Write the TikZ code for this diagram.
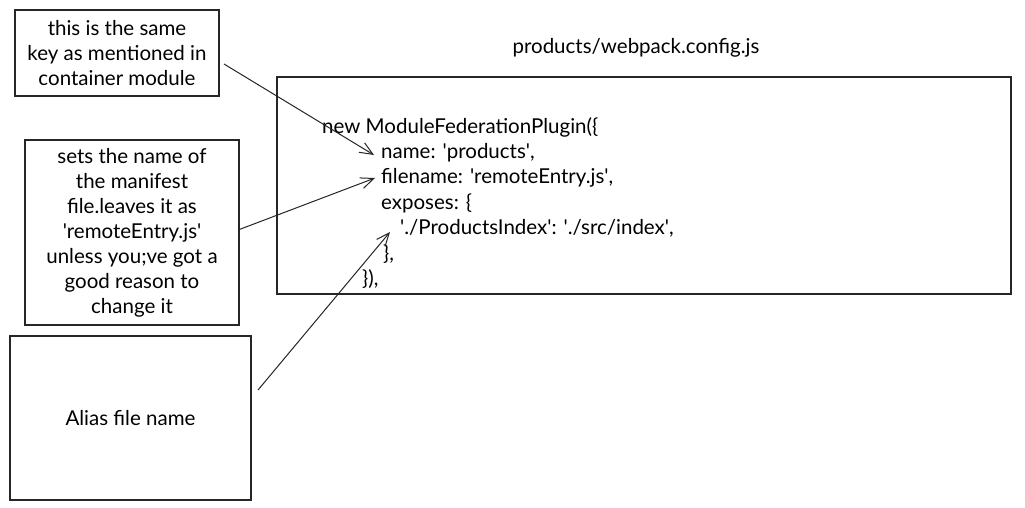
\documentclass[tikz,border=0pt]{standalone}
\usepackage{fontspec}
\setmainfont{Lato}
\usetikzlibrary{arrows.meta}
\newcommand{\sqt}{\textquotesingle}
\begin{document}
\begin{tikzpicture}[x=1pt,y=-1pt,
  sketch/.style={draw=black!85,line width=1.1pt},
  note/.style={sketch,align=center,inner sep=0pt,font=\fontsize{20.5}{25}\selectfont},
  lbl/.style={inner sep=0pt,font=\fontsize{20.5}{25}\selectfont},
  code/.style={lbl,anchor=west},
  conn/.style={draw=black!85,line width=1pt,-{Straight Barb[length=13pt,width=11pt,line width=1pt]}}]
\useasboundingbox[fill=white] (0,0) rectangle (1025,507);
% boxes
\node[note,minimum width=204pt,minimum height=86pt] (keybox) at (117,53)
  {this is the same\\key as mentioned in\\container module};
\node[note,minimum width=214pt,minimum height=185pt] (filebox) at (132,232.5)
  {sets the name of\\the manifest\\file.leaves it as\\\sqt remoteEntry.js\sqt\\unless you;ve got a\\good reason to\\change it};
\node[note,minimum width=241pt,minimum height=164pt] (aliasbox) at (130.5,418) {Alias file name};
\node[sketch,minimum width=734pt,minimum height=217pt,inner sep=0pt] (cfgbox) at (644,185.5) {};
\node[lbl] (title) at (636,48) {products/webpack.config.js};
% code
\node[code] (c1) at (322,127) {new ModuleFederationPlugin(\{};
\node[code] (c2) at (381,153) {name: \sqt products\sqt,};
\node[code] (c3) at (381,178) {filename: \sqt remoteEntry.js\sqt,};
\node[code] (c4) at (381,203) {exposes: \{};
\node[code] (c5) at (400,228) {\sqt./ProductsIndex\sqt: \sqt./src/index\sqt,};
\node[code] (c6) at (383,254) {\},};
\node[code] (c7) at (362,279) {\}),};
% connector ends
\coordinate (s1) at (224,64);
\coordinate (t1) at (374,155);
\coordinate (s2) at (238,230);
\coordinate (t2) at (375,178);
\coordinate (s3) at (258,390);
\coordinate (t3) at (390,232);
\draw[conn] (s1) -- (t1);
\draw[conn] (s2) -- (t2);
\draw[conn] (s3) -- (t3);
\end{tikzpicture}
\end{document}
